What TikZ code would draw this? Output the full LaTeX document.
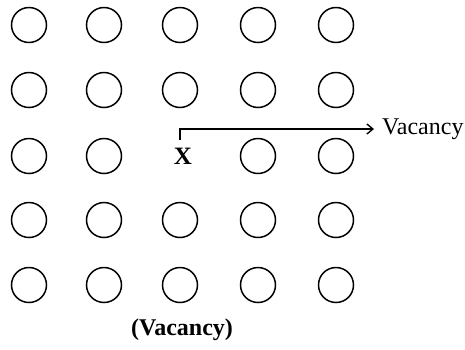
\documentclass[tikz,border=0pt]{standalone}
\usepackage{fontspec}
\setmainfont{Liberation Serif}
\usetikzlibrary{arrows.meta}
\begin{document}
\begin{tikzpicture}[x=1pt,y=-1pt,
  atom/.style={draw, circle, minimum size=35pt, inner sep=0pt, line width=1.5pt},
  lbl/.style={font=\fontsize{24}{26}\selectfont, inner sep=0pt},
  blbl/.style={font=\fontsize{24}{26}\selectfont\bfseries, inner sep=0pt},
  ptr/.style={line width=1.4pt, -{Straight Barb[length=6pt,width=10pt,line width=1.4pt]}}]
\useasboundingbox (0,0) rectangle (465,349);
\foreach \x [count=\i] in {29,104,180,258,336}{
  \foreach \y [count=\j] in {25,90,156,220,285}{
    \ifnum\i=3 \ifnum\j=3 \else \node[atom] (a\i\j) at (\x,\y) {};\fi
    \else \node[atom] (a\i\j) at (\x,\y) {};\fi
  }
}
\node[blbl, font=\fontsize{25}{27}\selectfont\bfseries] (xn) at (183,156) {X};
\node[lbl, anchor=west] (vac) at (382,129) {Vacancy};
\node[blbl] (cap) at (182,330) {(Vacancy)};
\coordinate (s) at (180,140);
\draw[ptr] (s) |- ([xshift=-8pt]vac.west);
\end{tikzpicture}
\end{document}
